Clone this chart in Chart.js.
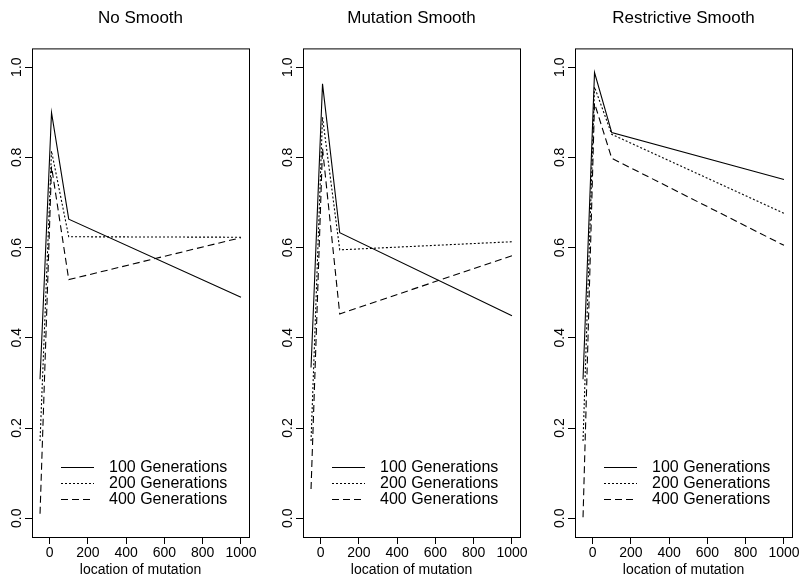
<!DOCTYPE html>
<html>
<head>
<meta charset="utf-8">
<script src="https://cdn.jsdelivr.net/npm/chart.js@4"></script>
<style>
  html, body { margin: 0; padding: 0; background: #fff; }
  body { width: 801px; height: 579px; position: relative; overflow: hidden; }
  canvas { position: absolute; top: 0; }
</style>
</head>
<body>
<canvas id="c0" width="258" height="579" style="left:0px"></canvas>
<canvas id="c1" width="258" height="579" style="left:271px"></canvas>
<canvas id="c2" width="258" height="579" style="left:543px"></canvas>
<script>
// data
const locations = [-50, 10, 100, 1000];
const seriesLabels = ['100 Generations', '200 Generations', '400 Generations'];
const panelTitles = ['No Smooth', 'Mutation Smooth', 'Restrictive Smooth'];
const xTicks = [0, 200, 400, 600, 800, 1000];
const yTicks = [0, 0.2, 0.4, 0.6, 0.8, 1.0];

const noSmooth = [
  [0.308, 0.899, 0.663, 0.490],
  [0.171, 0.814, 0.624, 0.623],
  [0.010, 0.780, 0.529, 0.622],
];
const mutationSmooth = [
  [0.334, 0.963, 0.633, 0.449],
  [0.171, 0.889, 0.595, 0.613],
  [0.065, 0.820, 0.453, 0.582],
];
const restrictiveSmooth = [
  [0.308, 0.988, 0.855, 0.751],
  [0.171, 0.956, 0.851, 0.676],
  [0.002, 0.920, 0.798, 0.605],
];

const FONT = "'Liberation Sans', Arial, sans-serif";
const DASHES = [[], [2, 2], [7, 4]];

// full box around the plot region
const boxPlugin = {
  id: 'box',
  afterDraw(chart) {
    const { ctx, chartArea: a } = chart;
    ctx.save();
    ctx.strokeStyle = '#000';
    ctx.lineWidth = 1;
    ctx.strokeRect(a.left + 0.5, a.top + 0.5, a.right - a.left, a.bottom - a.top);
    ctx.restore();
  }
};

// y labels written along the axis, like R does
const yLabelPlugin = {
  id: 'ylabels',
  afterDraw(chart) {
    const { ctx, chartArea: a } = chart;
    const s = chart.scales.y;
    ctx.save();
    ctx.fillStyle = '#000';
    ctx.font = '14px ' + FONT;
    ctx.textAlign = 'center';
    ctx.textBaseline = 'middle';
    s.ticks.forEach(t => {
      const y = s.getPixelForValue(t.value);
      ctx.save();
      ctx.translate(a.left - 15, y);
      ctx.rotate(-Math.PI / 2);
      ctx.fillText(t.value.toFixed(1), 0, 0);
      ctx.restore();
    });
    ctx.restore();
  }
};

// legend inside the plot, lower left, no frame
const legendPlugin = {
  id: 'innerLegend',
  afterDraw(chart) {
    const { ctx, chartArea: a } = chart;
    ctx.save();
    ctx.font = '16px ' + FONT;
    ctx.fillStyle = '#000';
    ctx.textBaseline = 'middle';
    chart.data.datasets.forEach((ds, i) => {
      const y = Math.round(467 + i * 15.8) + 0.5;
      ctx.strokeStyle = '#000';
      ctx.lineWidth = 1;
      ctx.setLineDash(ds.borderDash);
      ctx.beginPath();
      ctx.moveTo(a.left + 29, y);
      ctx.lineTo(a.left + 62, y);
      ctx.stroke();
      ctx.setLineDash([]);
      ctx.fillText(ds.label, a.left + 77, y);
    });
    ctx.restore();
  }
};

function panel(canvasId, title, rows) {
  const axisGrid = {
    display: true, drawOnChartArea: false, drawTicks: true,
    tickLength: 7, color: '#000', lineWidth: 1
  };
  return new Chart(document.getElementById(canvasId), {
    type: 'line',
    data: {
      datasets: rows.map((vals, i) => ({
        label: seriesLabels[i],
        data: locations.map((x, j) => ({ x, y: vals[j] })),
        borderColor: '#000',
        borderWidth: 1.1,
        borderDash: DASHES[i],
        pointRadius: 0,
        fill: false,
        tension: 0,
      }))
    },
    options: {
      responsive: false,
      animation: false,
      layout: { padding: { left: 0, right: 9, top: 0, bottom: 0 } },
      plugins: {
        legend: { display: false },
        tooltip: { enabled: false },
        title: {
          display: true, text: title, color: '#000', fullSize: false,
          font: { family: FONT, size: 17, weight: 'normal' },
          padding: { top: 8, bottom: 20 }
        }
      },
      scales: {
        x: {
          type: 'linear', min: -92, max: 1042,
          afterBuildTicks: s => { s.ticks = xTicks.map(v => ({ value: v })); },
          afterFit: s => { s.height = 42; },
          grid: axisGrid,
          border: { display: false },
          ticks: {
            color: '#000', font: { family: FONT, size: 14 }, padding: 1,
            maxRotation: 0, autoSkip: false, callback: v => String(v)
          },
          title: { display: true, text: 'location of mutation', color: '#000', font: { family: FONT, size: 14 }, padding: 0 }
        },
        y: {
          type: 'linear', min: -0.0416, max: 1.0416,
          afterBuildTicks: s => { s.ticks = yTicks.map(v => ({ value: v })); },
          afterFit: s => { s.width = 32; },
          grid: axisGrid,
          border: { display: false },
          ticks: { color: 'rgba(0,0,0,0)', font: { family: FONT, size: 14 } }
        }
      }
    },
    plugins: [boxPlugin, yLabelPlugin, legendPlugin]
  });
}

panel('c0', panelTitles[0], noSmooth);
panel('c1', panelTitles[1], mutationSmooth);
panel('c2', panelTitles[2], restrictiveSmooth);
</script>
</body>
</html>
